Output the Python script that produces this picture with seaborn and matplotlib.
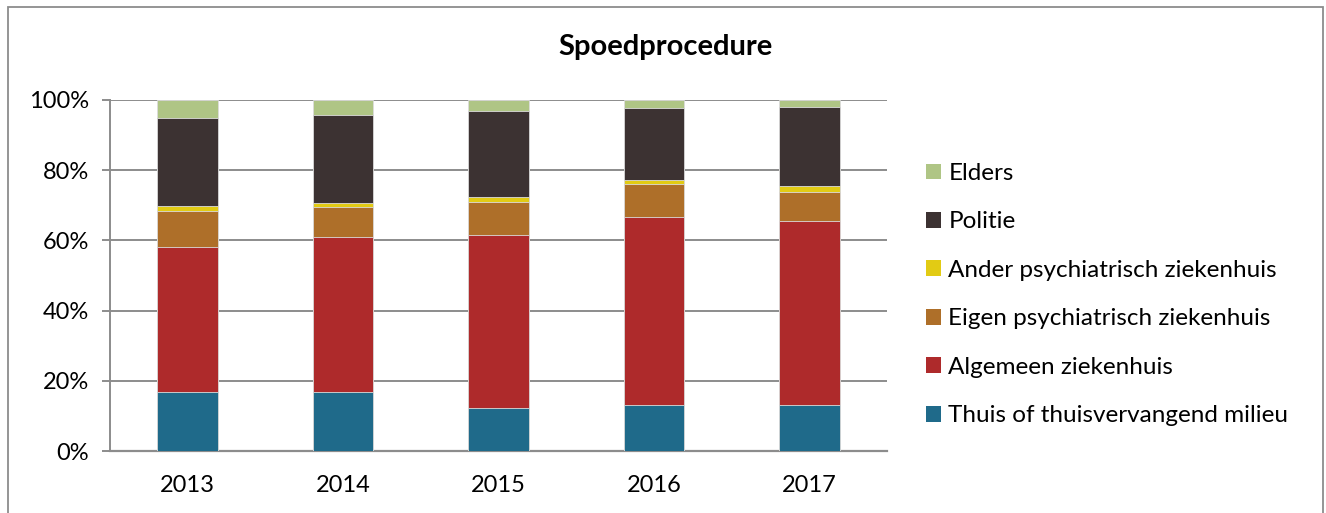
import numpy as np
import pandas as pd
import matplotlib.pyplot as plt
import seaborn as sns
from matplotlib.patches import Patch, Rectangle

# Data (percent per year)
years = ['2013', '2014', '2015', '2016', '2017']
categories = ['Thuis of thuisvervangend milieu', 'Algemeen ziekenhuis',
              'Eigen psychiatrisch ziekenhuis', 'Ander psychiatrisch ziekenhuis',
              'Politie', 'Elders']
thuis = [16.8, 16.8, 12.3, 13.1, 13.0]
algemeen = [41.3, 44.2, 49.1, 53.5, 52.4]
eigen = [10.2, 8.4, 9.4, 9.4, 8.3]
ander = [1.6, 1.3, 1.7, 1.2, 1.8]
politie = [25.1, 25.0, 24.3, 20.5, 22.4]
elders = [5.0, 4.3, 3.2, 2.3, 2.1]
colors = ['#1F6A8A', '#AE2A2B', '#AE6F29', '#E2CB14', '#3C3232', '#AFC585']

df = pd.DataFrame(dict(zip(categories, [thuis, algemeen, eigen, ander, politie, elders])),
                  index=years)
cum = df.cumsum(axis=1)

sns.set_style('white')
plt.rcParams['font.family'] = ['Lato', 'DejaVu Sans']
plt.rcParams['text.color'] = 'black'
plt.rcParams['xtick.color'] = 'black'
plt.rcParams['ytick.color'] = 'black'

fig = plt.figure(figsize=(13.26, 5.13), dpi=100)
ax = fig.add_axes([110 / 1326, 1 - 451 / 513, 777 / 1326, 351 / 513])

# stacked bars: draw cumulative totals from top to bottom
for cat, col in reversed(list(zip(categories, colors))):
    sns.barplot(x=years, y=cum[cat].values, color=col, width=0.39, saturation=1,
                edgecolor='#dcdcdc', linewidth=0.6, ax=ax, zorder=3)

ax.set_ylim(0, 100)
ax.set_yticks(np.arange(0, 101, 20))
ax.set_yticklabels([f'{v}%' for v in range(0, 101, 20)])
ax.yaxis.grid(True, color='#8c8c8c', linewidth=1.4, zorder=0)
ax.set_axisbelow(True)
for s in ['top', 'right']:
    ax.spines[s].set_visible(False)
ax.spines['left'].set_color('#8c8c8c')
ax.spines['left'].set_linewidth(1.4)
ax.spines['bottom'].set_color('#8c8c8c')
ax.spines['bottom'].set_linewidth(1.6)
ax.tick_params(axis='y', length=6, width=1.4, color='#8c8c8c', pad=9,
               labelsize=17, left=True, labelcolor='black')
ax.tick_params(axis='x', length=0, pad=17, labelsize=17, labelcolor='black')
ax.set_xlabel('')
ax.set_ylabel('')

fig.text(665 / 1326, 1 - 47 / 513, 'Spoedprocedure', ha='center', va='center',
         fontsize=21, fontweight='bold', color='black')

handles = [Patch(facecolor=c, edgecolor='none', label=l)
           for l, c in reversed(list(zip(categories, colors)))]
fig.legend(handles=handles, loc='upper left', bbox_to_anchor=(926 / 1326, 1 - 163 / 513),
           frameon=False, fontsize=17.5, handlelength=0.62, handleheight=0.62,
           handletextpad=0.3, labelspacing=1.13, borderaxespad=0, borderpad=0,
           labelcolor='black')

# outer chart frame
fig.patches.append(Rectangle((8 / 1326, -0.05), 1315 / 1326, 1.05 - 7 / 513,
                             transform=fig.transFigure, fill=False,
                             edgecolor='#8c8c8c', linewidth=1.3))

fig.savefig('out.png', dpi=100)
